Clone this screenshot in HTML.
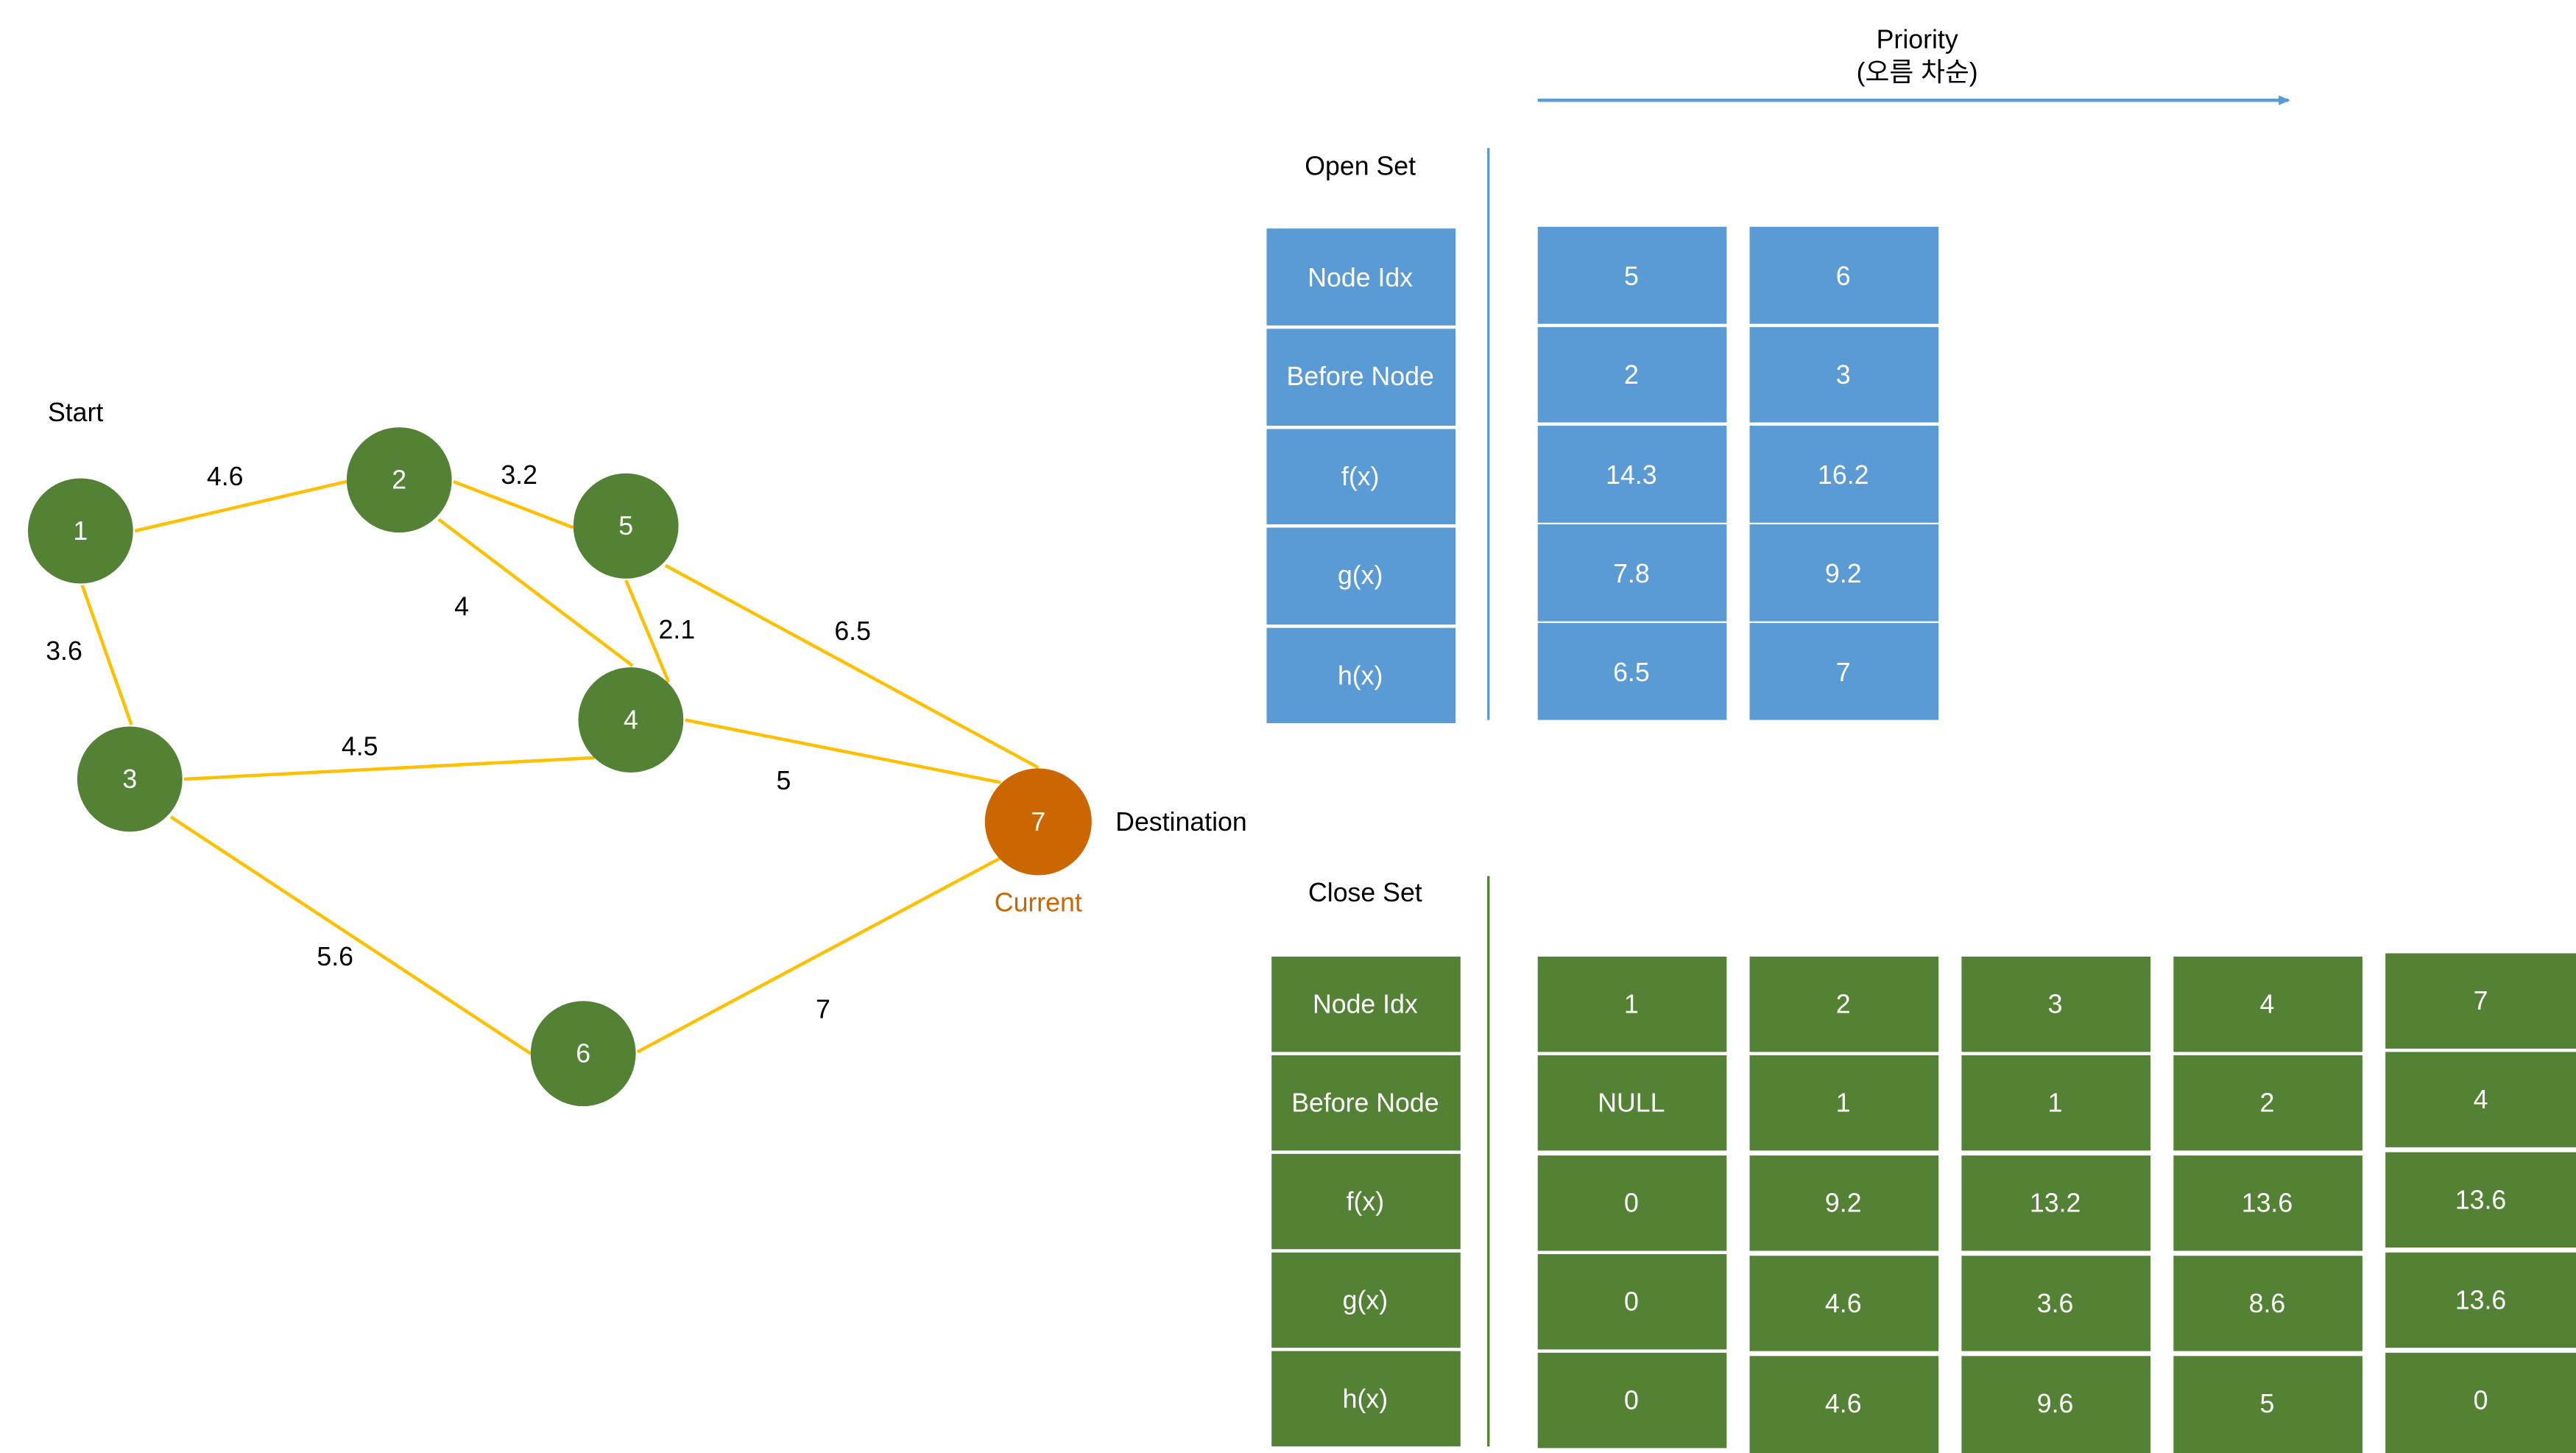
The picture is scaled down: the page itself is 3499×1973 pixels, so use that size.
<!DOCTYPE html>
<html><head><meta charset="utf-8"><style>
html,body{margin:0;padding:0;background:#fff;}
svg{display:block;}
text{font-family:"Liberation Sans","Noto Sans CJK KR",sans-serif;font-size:16px;}
.w{fill:#fff;text-anchor:middle;dominant-baseline:central;}
.k{fill:#000;text-anchor:middle;dominant-baseline:central;}
</style></head><body>
<svg width="3499" height="1973" viewBox="0 0 1568 884" preserveAspectRatio="none" xmlns="http://www.w3.org/2000/svg">
<defs><marker id="ar" markerWidth="8" markerHeight="8" refX="6" refY="3" orient="auto" markerUnits="userSpaceOnUse"><path d="M0,0 L7,3 L0,6 z" fill="#5B9BD5"/></marker></defs>
<!-- edges -->
<g stroke="#FFC000" stroke-width="2">
<line x1="82" y1="323" x2="211" y2="293"/>
<line x1="50" y1="356" x2="80" y2="441"/>
<line x1="276" y1="293" x2="349" y2="321"/>
<line x1="267" y1="316" x2="385" y2="405"/>
<line x1="381" y1="353" x2="407" y2="415"/>
<line x1="405" y1="344" x2="632" y2="467"/>
<line x1="112" y1="474" x2="362" y2="461"/>
<line x1="417" y1="438" x2="609" y2="476"/>
<line x1="104" y1="497" x2="323" y2="641"/>
<line x1="388" y1="640" x2="609" y2="522"/>
</g>
<g fill="#548235">
<circle cx="49" cy="323" r="32"/><circle cx="243" cy="292" r="32"/><circle cx="381" cy="320" r="32"/>
<circle cx="384" cy="438" r="32"/><circle cx="79" cy="474" r="32"/><circle cx="355" cy="641" r="32"/>
</g>
<circle cx="632" cy="500" r="32.5" fill="#CC6600"/>
<text class="w" x="49" y="323">1</text><text class="w" x="243" y="292">2</text><text class="w" x="381" y="320">5</text>
<text class="w" x="384" y="438">4</text><text class="w" x="79" y="474">3</text><text class="w" x="355" y="641">6</text>
<text class="w" x="632" y="500">7</text>
<text class="k" x="137" y="290">4.6</text><text class="k" x="316" y="289">3.2</text><text class="k" x="281" y="369">4</text>
<text class="k" x="412" y="383">2.1</text><text class="k" x="519" y="384">6.5</text><text class="k" x="39" y="396">3.6</text>
<text class="k" x="219" y="454">4.5</text><text class="k" x="477" y="475">5</text><text class="k" x="204" y="582">5.6</text>
<text class="k" x="501" y="614">7</text>
<text class="k" x="46" y="251">Start</text>
<text class="k" x="719" y="500">Destination</text>
<text class="k" x="632" y="549" style="fill:#CC6600">Current</text>
<!-- priority -->
<text class="k" x="1167" y="24">Priority</text>
<text class="k" x="1167" y="44">(오름 차순)</text>
<line x1="936" y1="61" x2="1393" y2="61" stroke="#5B9BD5" stroke-width="2" marker-end="url(#ar)"/>
<!-- open set -->
<text class="k" x="828" y="101">Open Set</text>
<line x1="906" y1="90" x2="906" y2="438" stroke="#5B9BD5" stroke-width="1.5"/>
<g fill="#5B9BD5">
<rect x="771" y="139" width="115" height="59"/><rect x="771" y="200" width="115" height="59"/><rect x="771" y="261" width="115" height="58"/><rect x="771" y="321" width="115" height="59"/><rect x="771" y="382" width="115" height="58"/>
<rect x="936" y="138" width="115" height="59"/><rect x="936" y="199" width="115" height="58"/><rect x="936" y="259" width="115" height="59"/><rect x="936" y="319" width="115" height="59"/><rect x="936" y="379" width="115" height="59"/>
<rect x="1065" y="138" width="115" height="59"/><rect x="1065" y="199" width="115" height="58"/><rect x="1065" y="259" width="115" height="59"/><rect x="1065" y="319" width="115" height="59"/><rect x="1065" y="379" width="115" height="59"/>
</g>
<text class="w" x="828" y="169">Node Idx</text><text class="w" x="828" y="229">Before Node</text><text class="w" x="828" y="290">f(x)</text><text class="w" x="828" y="350">g(x)</text><text class="w" x="828" y="411">h(x)</text>
<text class="w" x="993" y="168">5</text><text class="w" x="993" y="228">2</text><text class="w" x="993" y="289">14.3</text><text class="w" x="993" y="349">7.8</text><text class="w" x="993" y="409">6.5</text>
<text class="w" x="1122" y="168">6</text><text class="w" x="1122" y="228">3</text><text class="w" x="1122" y="289">16.2</text><text class="w" x="1122" y="349">9.2</text><text class="w" x="1122" y="409">7</text>
<!-- close set -->
<text class="k" x="831" y="543">Close Set</text>
<line x1="906" y1="533" x2="906" y2="880" stroke="#548235" stroke-width="1.5"/>
<g fill="#548235">
<rect x="774" y="582" width="115" height="58"/><rect x="774" y="642" width="115" height="58"/><rect x="774" y="702" width="115" height="58"/><rect x="774" y="762" width="115" height="58"/><rect x="774" y="822" width="115" height="58"/>
<rect x="936" y="582" width="115" height="58"/><rect x="936" y="642" width="115" height="58"/><rect x="936" y="703" width="115" height="58"/><rect x="936" y="763" width="115" height="58"/><rect x="936" y="823" width="115" height="58"/>
<rect x="1065" y="582" width="115" height="58"/><rect x="1065" y="642" width="115" height="58"/><rect x="1065" y="703" width="115" height="58"/><rect x="1065" y="764" width="115" height="58"/><rect x="1065" y="825" width="115" height="59"/>
<rect x="1194" y="582" width="115" height="58"/><rect x="1194" y="642" width="115" height="58"/><rect x="1194" y="703" width="115" height="58"/><rect x="1194" y="764" width="115" height="58"/><rect x="1194" y="825" width="115" height="59"/>
<rect x="1323" y="582" width="115" height="58"/><rect x="1323" y="642" width="115" height="58"/><rect x="1323" y="703" width="115" height="58"/><rect x="1323" y="764" width="115" height="58"/><rect x="1323" y="825" width="115" height="59"/>
<rect x="1452" y="580" width="116" height="58"/><rect x="1452" y="640" width="116" height="58"/><rect x="1452" y="701" width="116" height="58"/><rect x="1452" y="762" width="116" height="58"/><rect x="1452" y="823" width="116" height="61"/>
</g>
<text class="w" x="831" y="611">Node Idx</text><text class="w" x="831" y="671">Before Node</text><text class="w" x="831" y="731">f(x)</text><text class="w" x="831" y="791">g(x)</text><text class="w" x="831" y="851">h(x)</text>
<text class="w" x="993" y="611">1</text><text class="w" x="993" y="671">NULL</text><text class="w" x="993" y="732">0</text><text class="w" x="993" y="792">0</text><text class="w" x="993" y="852">0</text>
<text class="w" x="1122" y="611">2</text><text class="w" x="1122" y="671">1</text><text class="w" x="1122" y="732">9.2</text><text class="w" x="1122" y="793">4.6</text><text class="w" x="1122" y="854">4.6</text>
<text class="w" x="1251" y="611">3</text><text class="w" x="1251" y="671">1</text><text class="w" x="1251" y="732">13.2</text><text class="w" x="1251" y="793">3.6</text><text class="w" x="1251" y="854">9.6</text>
<text class="w" x="1380" y="611">4</text><text class="w" x="1380" y="671">2</text><text class="w" x="1380" y="732">13.6</text><text class="w" x="1380" y="793">8.6</text><text class="w" x="1380" y="854">5</text>
<text class="w" x="1510" y="609">7</text><text class="w" x="1510" y="669">4</text><text class="w" x="1510" y="730">13.6</text><text class="w" x="1510" y="791">13.6</text><text class="w" x="1510" y="852">0</text>
</svg>
</body></html>
